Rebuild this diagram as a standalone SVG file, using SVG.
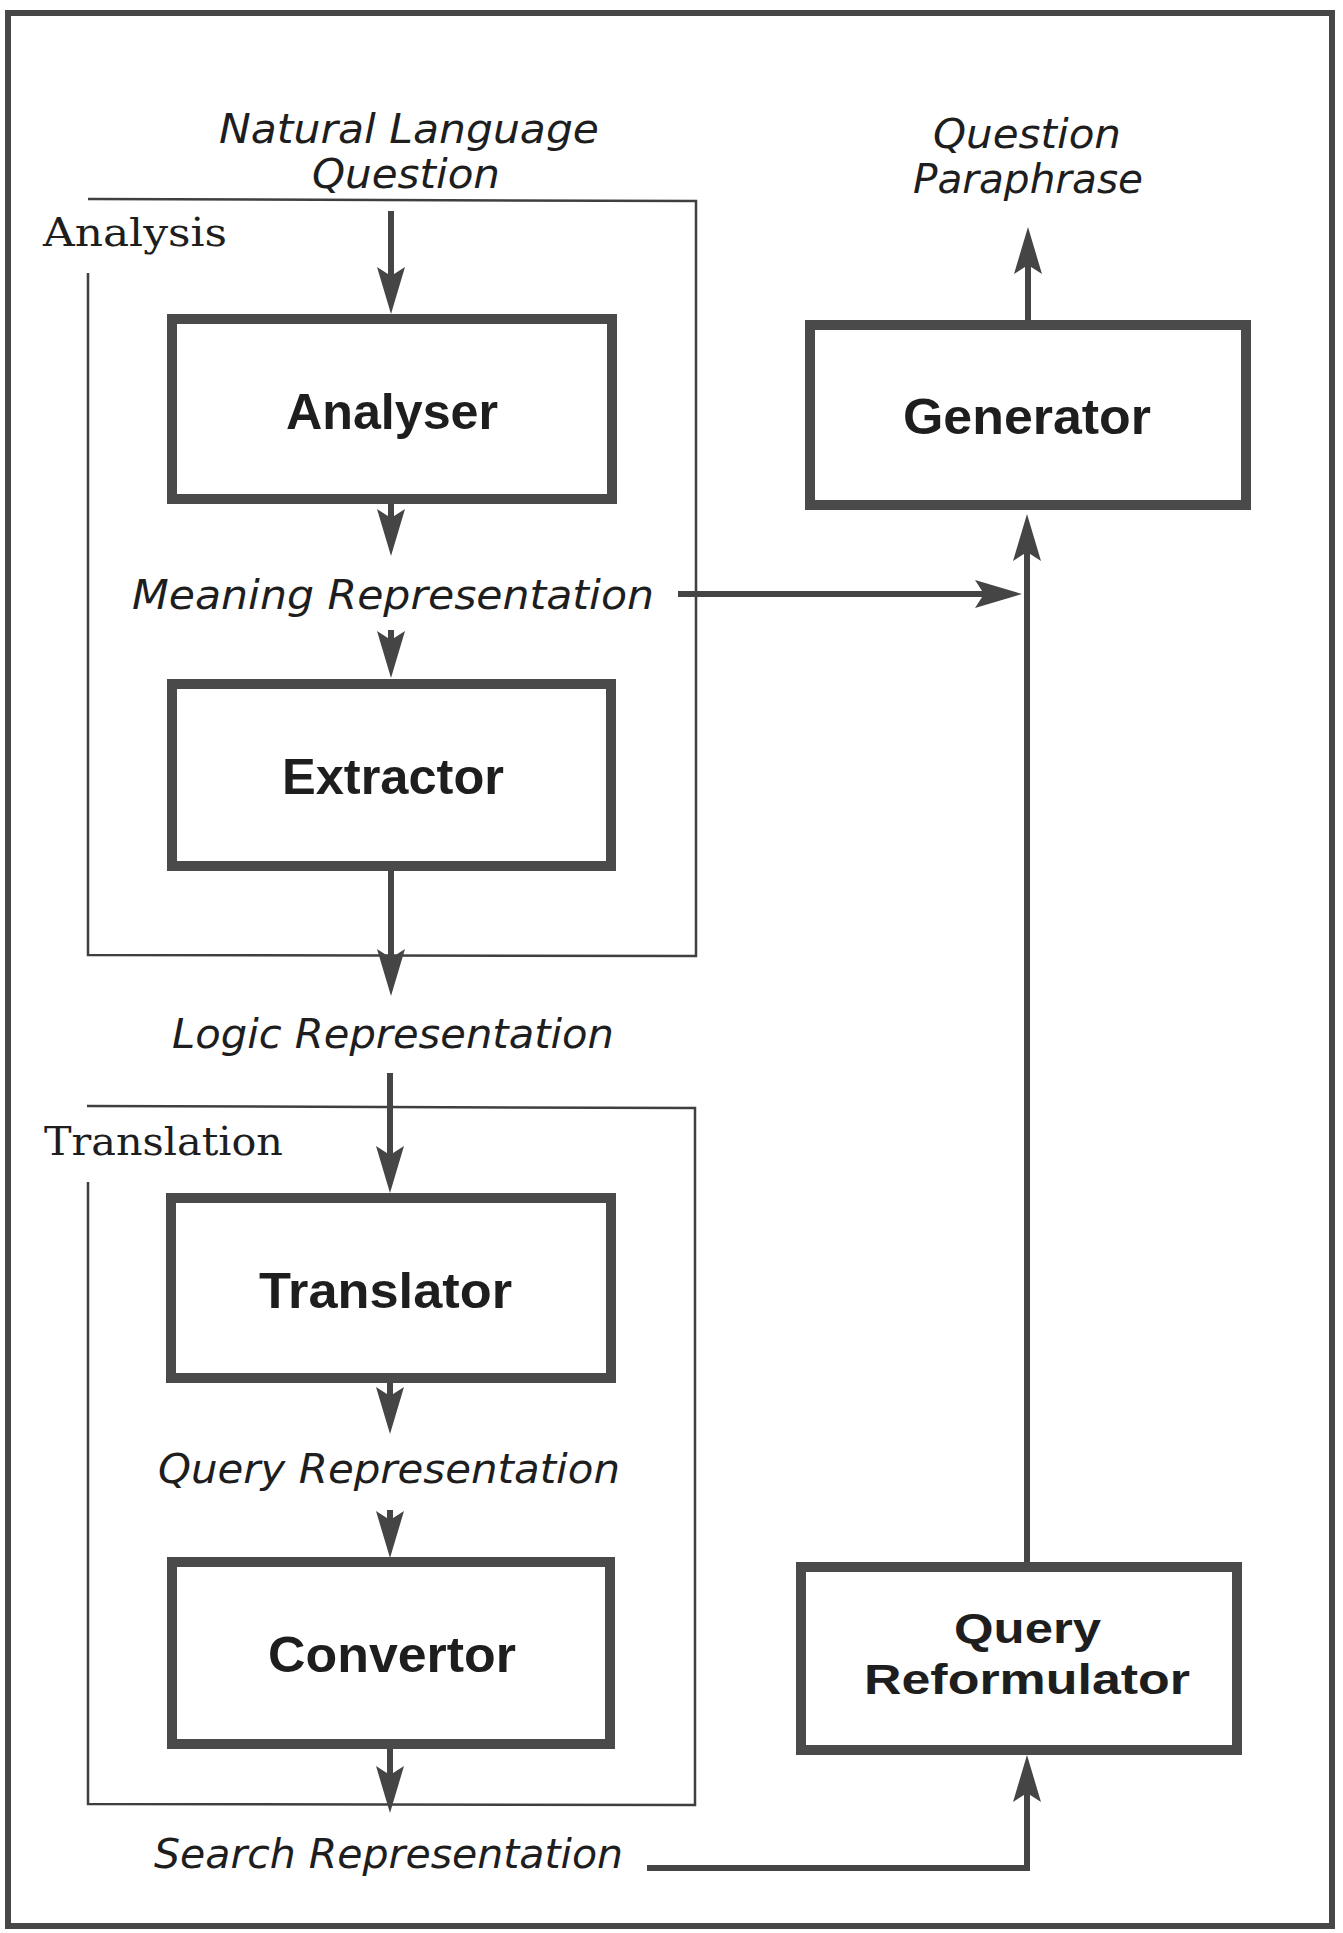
<svg xmlns="http://www.w3.org/2000/svg" width="1343" height="1933" viewBox="0 0 1343 1933">
<defs>
<marker id="ah" markerUnits="userSpaceOnUse" markerWidth="48" markerHeight="30" viewBox="0 0 48 30" refX="21" refY="15" orient="auto">
<path d="M47,15 L0,1 L9,15 L0,29 Z" fill="#454545"/>
</marker>
<style>
.frame{fill:none;stroke:#3f3f3f;stroke-width:2.5}
.outer{fill:none;stroke:#474747;stroke-width:6}
.box{fill:#fff;stroke:#4a4a4a;stroke-width:10}
.con{fill:none;stroke:#454545;stroke-width:6;marker-end:url(#ah)}
.bl{font-family:"Liberation Sans",Arial,sans-serif;font-weight:bold;font-size:50px;fill:#1e1e1e}
.bl2{font-family:"Liberation Sans",Arial,sans-serif;font-weight:bold;font-size:42px;fill:#1e1e1e}
.it{font-family:"DejaVu Sans","Liberation Sans",sans-serif;font-style:italic;font-size:40px;fill:#1e1e1e}
.sf{font-family:"DejaVu Serif","Liberation Serif",serif;font-size:39px;fill:#1e1e1e}
</style>
</defs>
<rect width="1343" height="1933" fill="#fff"/>
<rect class="outer" x="8" y="13" width="1324" height="1913"/>

<g id="analysis-frame">
<polyline class="frame" points="88,273 88,955 696,956 696,201 88,199"/>
<text class="sf" x="43" y="246" textLength="184" lengthAdjust="spacingAndGlyphs">Analysis</text>
</g>
<g id="translation-frame">
<polyline class="frame" points="88,1182 88,1804 695,1805 695,1108 87,1106"/>
<text class="sf" x="44" y="1155" textLength="239" lengthAdjust="spacingAndGlyphs">Translation</text>
</g>

<g id="connectors">
<line class="con" x1="391" y1="211" x2="391" y2="288"/>
<line class="con" x1="391" y1="504" x2="391" y2="530"/>
<line class="con" x1="391" y1="630" x2="391" y2="652"/>
<line class="con" x1="391" y1="871" x2="391" y2="970"/>
<line class="con" x1="390" y1="1073" x2="390" y2="1167"/>
<line class="con" x1="390" y1="1383" x2="390" y2="1408"/>
<line class="con" x1="390" y1="1510" x2="390" y2="1532"/>
<line class="con" x1="390" y1="1749" x2="390" y2="1787"/>
<polyline class="con" points="647,1868 1027,1868 1027,1781"/>
<line class="con" x1="1027" y1="1562" x2="1027" y2="540"/>
<line class="con" x1="678" y1="594" x2="996" y2="594"/>
<line class="con" x1="1028" y1="320" x2="1028" y2="253"/>
</g>

<g id="nlq">
<text class="it" x="219" y="143" textLength="380" lengthAdjust="spacingAndGlyphs">Natural Language</text>
<text class="it" x="312" y="188" textLength="188" lengthAdjust="spacingAndGlyphs">Question</text>
</g>
<g id="qp">
<text class="it" x="933" y="148" textLength="188" lengthAdjust="spacingAndGlyphs">Question</text>
<text class="it" x="913" y="193" textLength="230" lengthAdjust="spacingAndGlyphs">Paraphrase</text>
</g>
<g id="analyser">
<rect class="box" x="172" y="319" width="440" height="180"/>
<text class="bl" x="286" y="429" textLength="212" lengthAdjust="spacingAndGlyphs">Analyser</text>
</g>
<g id="generator">
<rect class="box" x="810" y="325" width="436" height="180"/>
<text class="bl" x="903" y="434" textLength="248" lengthAdjust="spacingAndGlyphs">Generator</text>
</g>
<g id="meaning-rep">
<text class="it" x="132" y="609" textLength="522" lengthAdjust="spacingAndGlyphs">Meaning Representation</text>
</g>
<g id="extractor">
<rect class="box" x="172" y="684" width="439" height="182"/>
<text class="bl" x="282" y="794" textLength="222" lengthAdjust="spacingAndGlyphs">Extractor</text>
</g>
<g id="logic-rep">
<text class="it" x="172" y="1048" textLength="442" lengthAdjust="spacingAndGlyphs">Logic Representation</text>
</g>
<g id="translator">
<rect class="box" x="171" y="1198" width="440" height="180"/>
<text class="bl" x="259" y="1308" textLength="253" lengthAdjust="spacingAndGlyphs">Translator</text>
</g>
<g id="query-rep">
<text class="it" x="158" y="1483" textLength="462" lengthAdjust="spacingAndGlyphs">Query Representation</text>
</g>
<g id="convertor">
<rect class="box" x="172" y="1562" width="438" height="182"/>
<text class="bl" x="268" y="1672" textLength="248" lengthAdjust="spacingAndGlyphs">Convertor</text>
</g>
<g id="query-reformulator">
<rect class="box" x="801" y="1567" width="436" height="183"/>
<text class="bl2" x="954" y="1643" textLength="147" lengthAdjust="spacingAndGlyphs">Query</text>
<text class="bl2" x="864" y="1694" textLength="326" lengthAdjust="spacingAndGlyphs">Reformulator</text>
</g>
<g id="search-rep">
<text class="it" x="154" y="1868" textLength="469" lengthAdjust="spacingAndGlyphs">Search Representation</text>
</g>
</svg>
